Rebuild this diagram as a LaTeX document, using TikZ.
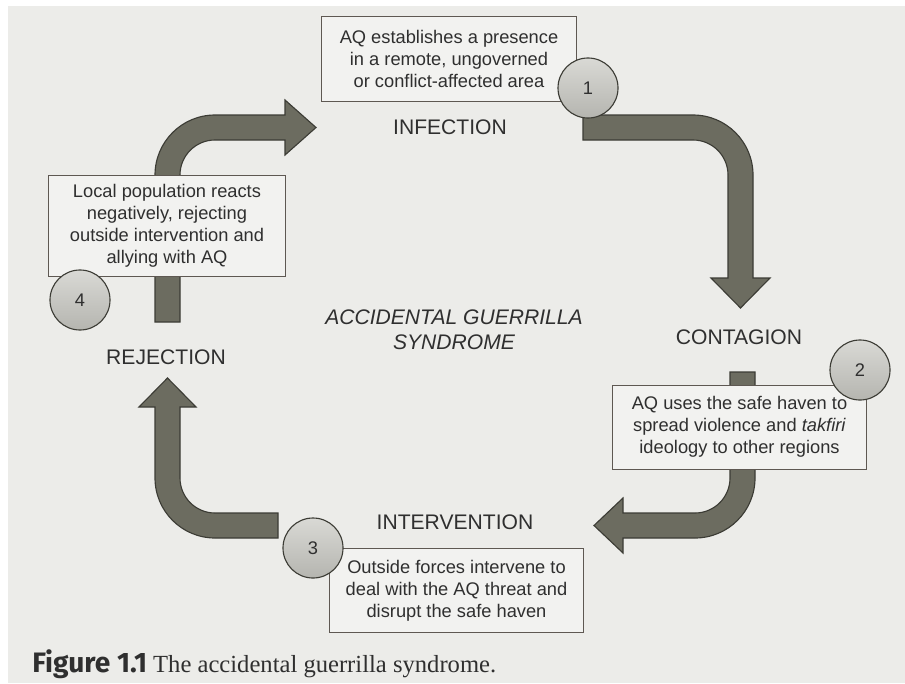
\documentclass[tikz,border=0pt]{standalone}
\usepackage{fontspec}
\setmainfont{Liberation Serif}
\setsansfont{Liberation Sans}
\newfontfamily\capfont{Fira Sans}
\usepackage{xcolor}
\definecolor{pagetone}{HTML}{ECECE9}
\definecolor{bandgray}{HTML}{6C6C60}
\definecolor{bandedge}{HTML}{3C3C35}
\definecolor{boxedge}{HTML}{5E5852}
\definecolor{boxtone}{HTML}{F2F2F0}
\definecolor{badgetone}{HTML}{C9C9C3}
\definecolor{printink}{HTML}{2F2F2F}

\begin{document}
\begin{tikzpicture}[x=0.025cm,y=-0.025cm,
  point/.style={coordinate},
  textbox/.style={draw=boxedge, line width=0.7pt, fill=boxtone, rectangle, minimum width=6.35cm, minimum height=2.1cm, inner sep=2pt, align=center, text=printink, font=\sffamily\fontsize{13}{15.6}\selectfont},
  badge/.style={draw=bandedge, line width=0.8pt, top color=badgetone!70!white, bottom color=badgetone!90!black, circle, minimum size=1.5cm, inner sep=0pt, text=printink, font=\sffamily\fontsize{13}{15}\selectfont},
  stage/.style={text=printink, font=\sffamily\fontsize{15}{18}\selectfont},
  band/.style={fill=bandgray, draw=bandedge, line width=0.8pt}]
\useasboundingbox (0,0) rectangle (905,683);
\fill[white] (0,0) rectangle (905,683);
\fill[pagetone] (8,6) rectangle (905,683);
% infection -> contagion
\begin{scope}
\node[point] (a0) at (583,115) {};
\node[point] (a1) at (753,115) {};
\node[point] (a2) at (753,278) {};
\node[point] (a3) at (770,278) {};
\node[point] (a4) at (740.5,308) {};
\node[point] (a5) at (711,278) {};
\node[point] (a6) at (728,278) {};
\node[point] (a7) at (728,140) {};
\node[point] (a8) at (583,140) {};
\filldraw[band] (a0) [rounded corners=1.5cm] -- (a1) [sharp corners] -- (a2) -- (a3) -- (a4) -- (a5) -- (a6)
  [rounded corners=0.875cm] -- (a7) [sharp corners] -- (a8) -- cycle;
\end{scope}
% contagion -> intervention
\begin{scope}
\node[point] (b0) at (730,372) {};
\node[point] (b1) at (755,372) {};
\node[point] (b2) at (755,538) {};
\node[point] (b3) at (623,538) {};
\node[point] (b4) at (623,553) {};
\node[point] (b5) at (594,525.5) {};
\node[point] (b6) at (623,498) {};
\node[point] (b7) at (623,513) {};
\node[point] (b8) at (730,513) {};
\filldraw[band] (b0) -- (b1) [rounded corners=1.5cm] -- (b2) [sharp corners] -- (b3) -- (b4) -- (b5) -- (b6) -- (b7)
  [rounded corners=0.875cm] -- (b8) [sharp corners] -- cycle;
\end{scope}
% intervention -> rejection
\begin{scope}
\node[point] (c0) at (278,538) {};
\node[point] (c1) at (155,538) {};
\node[point] (c2) at (155,407) {};
\node[point] (c3) at (139,407) {};
\node[point] (c4) at (167.5,378) {};
\node[point] (c5) at (196,407) {};
\node[point] (c6) at (180,407) {};
\node[point] (c7) at (180,513) {};
\node[point] (c8) at (278,513) {};
\filldraw[band] (c0) [rounded corners=1.5cm] -- (c1) [sharp corners] -- (c2) -- (c3) -- (c4) -- (c5) -- (c6)
  [rounded corners=0.875cm] -- (c7) [sharp corners] -- (c8) -- cycle;
\end{scope}
% rejection -> infection
\begin{scope}
\node[point] (d0) at (155,322) {};
\node[point] (d1) at (155,115) {};
\node[point] (d2) at (285,115) {};
\node[point] (d3) at (285,100) {};
\node[point] (d4) at (316,127.5) {};
\node[point] (d5) at (285,155) {};
\node[point] (d6) at (285,140) {};
\node[point] (d7) at (180,140) {};
\node[point] (d8) at (180,322) {};
\filldraw[band] (d0) [rounded corners=1.5cm] -- (d1) [sharp corners] -- (d2) -- (d3) -- (d4) -- (d5) -- (d6)
  [rounded corners=0.875cm] -- (d7) [sharp corners] -- (d8) -- cycle;
\end{scope}
% stages
\node[textbox] (box1) at (449,59) {AQ establishes a presence\\in a remote, ungoverned\\or conflict-affected area};
\node[textbox] (box2) at (739.5,427) {AQ uses the safe haven to\\spread violence and \textit{takfiri}\\ideology to other regions};
\node[textbox] (box3) at (456.5,590.5) {Outside forces intervene to\\deal with the AQ threat and\\disrupt the safe haven};
\node[textbox, minimum width=5.9cm, minimum height=2.5cm] (box4) at (167,226) {Local population reacts\\negatively, rejecting\\outside intervention and\\allying with AQ};
\node[badge] (n1) at (588,88) {1};
\node[badge] (n2) at (860,370) {2};
\node[badge] (n3) at (313,548) {3};
\node[badge] (n4) at (80,300) {4};
\node[stage] (infection) at (450,127) {INFECTION};
\node[stage] (contagion) at (739,337) {CONTAGION};
\node[stage] (intervention) at (455,522) {INTERVENTION};
\node[stage] (rejection) at (166,357) {REJECTION};
\node[stage, align=center, font=\sffamily\itshape\fontsize{15}{17.8}\selectfont] (syndrome) at (454,330) {ACCIDENTAL GUERRILLA\\SYNDROME};
\node[anchor=base west, inner sep=0pt, text=printink] (caption) at (32,672)
  {{\capfont\bfseries\fontsize{20}{24}\selectfont Figure 1.1}{\fontsize{17.5}{21}\selectfont\ The accidental guerrilla syndrome.}};
\end{tikzpicture}
\end{document}
